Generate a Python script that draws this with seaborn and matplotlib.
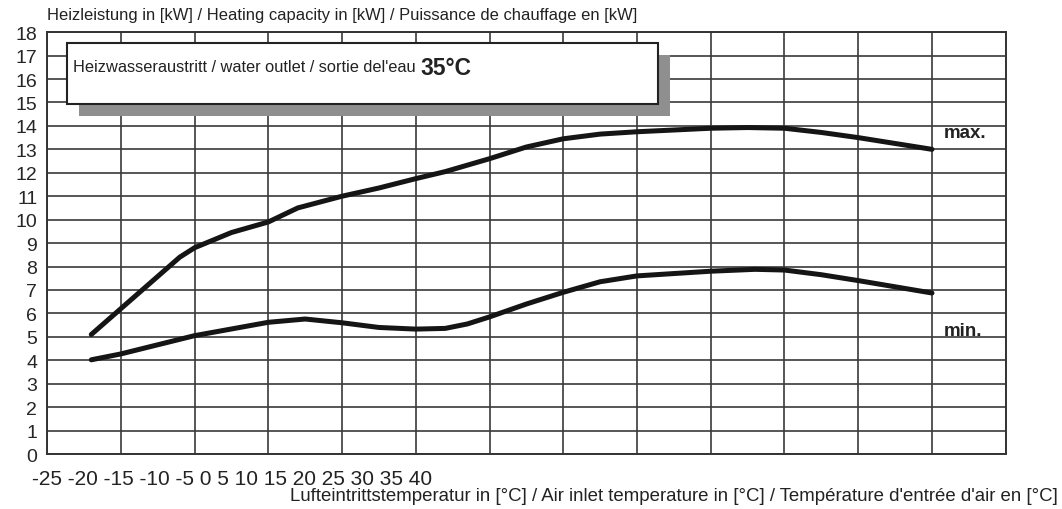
import pandas as pd
import seaborn as sns
import matplotlib.pyplot as plt
from matplotlib.patches import Rectangle
from matplotlib.text import Annotation
from matplotlib.ticker import MultipleLocator

# curve values (air inlet temp in degC -> heating capacity in kW)
max_temp = [-22, -20, -18, -16, -15, -12.5, -10, -8, -5, -2.5, 0, 2, 5, 7.5, 10,
            12.5, 15, 20, 22.5, 25, 27.5, 30, 32.5, 35]
max_kw = [5.1, 6.2, 7.3, 8.4, 8.8, 9.45, 9.9, 10.5, 11.0, 11.35, 11.75, 12.05, 12.6,
          13.1, 13.45, 13.65, 13.75, 13.9, 13.93, 13.9, 13.72, 13.5, 13.25, 13.0]
min_temp = [-22, -20, -15, -10, -7.5, -5, -2.5, 0, 2, 3.5, 5, 7.5, 10, 12.5, 15,
            20, 23, 25, 27.5, 30, 35]
min_kw = [4.02, 4.27, 5.05, 5.62, 5.76, 5.6, 5.4, 5.33, 5.36, 5.55, 5.85, 6.4, 6.9,
          7.35, 7.6, 7.8, 7.88, 7.85, 7.65, 7.4, 6.87]
xtick_labels = [-25, -20, -15, -10, -5, 0, 5, 10, 15, 20, 25, 30, 35, 40]

df = pd.concat([
    pd.DataFrame({'temp': max_temp, 'kw': max_kw, 'curve': 'max.'}),
    pd.DataFrame({'temp': min_temp, 'kw': min_kw, 'curve': 'min.'}),
])

sns.set_style('white')
plt.rcParams['font.family'] = ['Liberation Sans', 'DejaVu Sans']

fig = plt.figure(figsize=(10.62, 5.10), dpi=100)
ax = fig.add_axes([0.0443, 0.1078, 0.9027, 0.8272])

sns.lineplot(data=df, x='temp', y='kw', units='curve', estimator=None,
             color='#151515', lw=3.6, ax=ax, zorder=4)

ax.set_xlim(-25, 40)
ax.set_ylim(0, 18)
ax.xaxis.set_major_locator(MultipleLocator(5))
ax.xaxis.set_minor_locator(MultipleLocator(1))
ax.yaxis.set_major_locator(MultipleLocator(1))
ax.yaxis.set_minor_locator(MultipleLocator(0.5))
ax.grid(True, which='major', color='#3a3a3a', lw=1.2, zorder=1)
ax.set_axisbelow(True)
ax.tick_params(axis='x', which='major', length=0, labelbottom=False)
ax.tick_params(axis='x', which='minor', direction='in', length=5, width=1, color='#333')
ax.tick_params(axis='y', which='major', length=0, labelsize=14, pad=7)
ax.tick_params(axis='y', which='minor', direction='in', length=5, width=1, color='#333')
for s in ax.spines.values():
    s.set_color('#333')
    s.set_linewidth(1.4)
ax.set_xlabel('')
ax.set_ylabel('')

# curve names
ax.text(35.8, 13.7, 'max.', fontsize=13.5, fontweight='bold', va='center', color='#222')
ax.text(35.8, 5.25, 'min.', fontsize=13.5, fontweight='bold', va='center', color='#222')

# x labels drawn squashed together at the left, as in the reference
fig.text(0.030, 0.060, ' '.join(str(v) for v in xtick_labels), fontsize=15,
         va='center', ha='left', color='#222')

fig.text(0.0443, 0.969, 'Heizleistung in [kW] / Heating capacity in [kW] / '
         'Puissance de chauffage en [kW]', fontsize=11.9, va='center', ha='left', color='#222')
fig.text(0.996, 0.026, "Lufteintrittstemperatur in [°C] / Air inlet temperature in [°C] / "
         "Température d'entrée d'air en [°C]", fontsize=13.4, va='center', ha='right', color='#222')

# info box with shadow
fig.patches.append(Rectangle((0.0744, 0.7706), 0.5565, 0.1196, transform=fig.transFigure,
                             facecolor='#8f8f8f', edgecolor='none', zorder=5))
fig.patches.append(Rectangle((0.0631, 0.794), 0.5565, 0.1196, transform=fig.transFigure,
                             facecolor='white', edgecolor='#222', lw=1.5, zorder=6))
t1 = fig.text(0.0687, 0.859, "Heizwasseraustritt / water outlet / sortie del'eau ",
              fontsize=11.8, va='baseline', ha='left', color='#222', zorder=7)
fig.add_artist(Annotation('35°C', xy=(1, 0), xycoords=t1, va='baseline', ha='left',
                          fontsize=16.5, fontweight='bold', color='#222', zorder=7))

fig.savefig('out.png', dpi=100)
